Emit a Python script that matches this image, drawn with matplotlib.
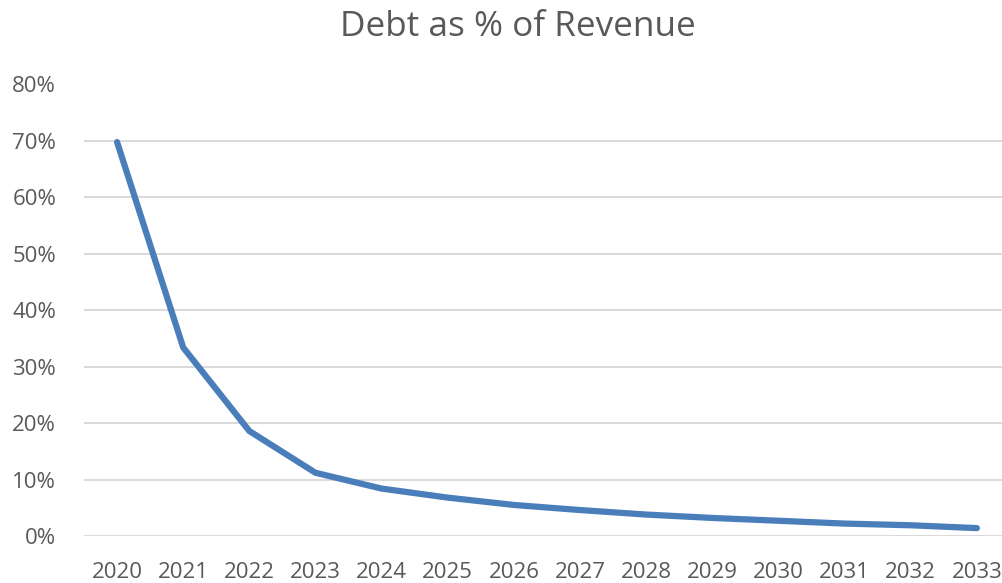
import matplotlib.pyplot as plt
from matplotlib.ticker import PercentFormatter

# data
years = ['2020', '2021', '2022', '2023', '2024', '2025', '2026',
         '2027', '2028', '2029', '2030', '2031', '2032', '2033']
debt_pct = [69.8, 33.4, 18.6, 11.2, 8.4, 6.8, 5.5,
            4.6, 3.8, 3.2, 2.7, 2.2, 1.9, 1.4]

plt.rcParams['font.family'] = ['Open Sans', 'DejaVu Sans']
text_color = '#595959'

fig = plt.figure(figsize=(10.02, 5.83), dpi=100)
ax = fig.add_axes([84 / 1002, (583 - 536) / 583, (1002 - 84) / 1002, (536 - 84.5) / 583])

x = range(len(years))
ax.plot(x, debt_pct, color='#4a7ebb', linewidth=4.5, solid_capstyle='round',
        solid_joinstyle='miter', zorder=3)

ax.set_ylim(0, 80)
ax.set_yticks(range(0, 81, 10))
ax.yaxis.set_major_formatter(PercentFormatter(decimals=0))
ax.set_xlim(-0.5, 13.38)
ax.set_xticks(list(x))
ax.set_xticklabels(years)

ax.grid(axis='y', color='#d9d9d9', linewidth=1.4)
ax.set_axisbelow(True)
for s in ax.spines.values():
    s.set_visible(False)
ax.tick_params(length=0, labelsize=16, colors=text_color)
ax.tick_params(axis='y', pad=20)
ax.tick_params(axis='x', pad=19)

fig.text(0.517, 0.953, 'Debt as % of Revenue', ha='center', va='center',
         fontsize=25.3, color=text_color)

fig.savefig('out.png', dpi=100)
